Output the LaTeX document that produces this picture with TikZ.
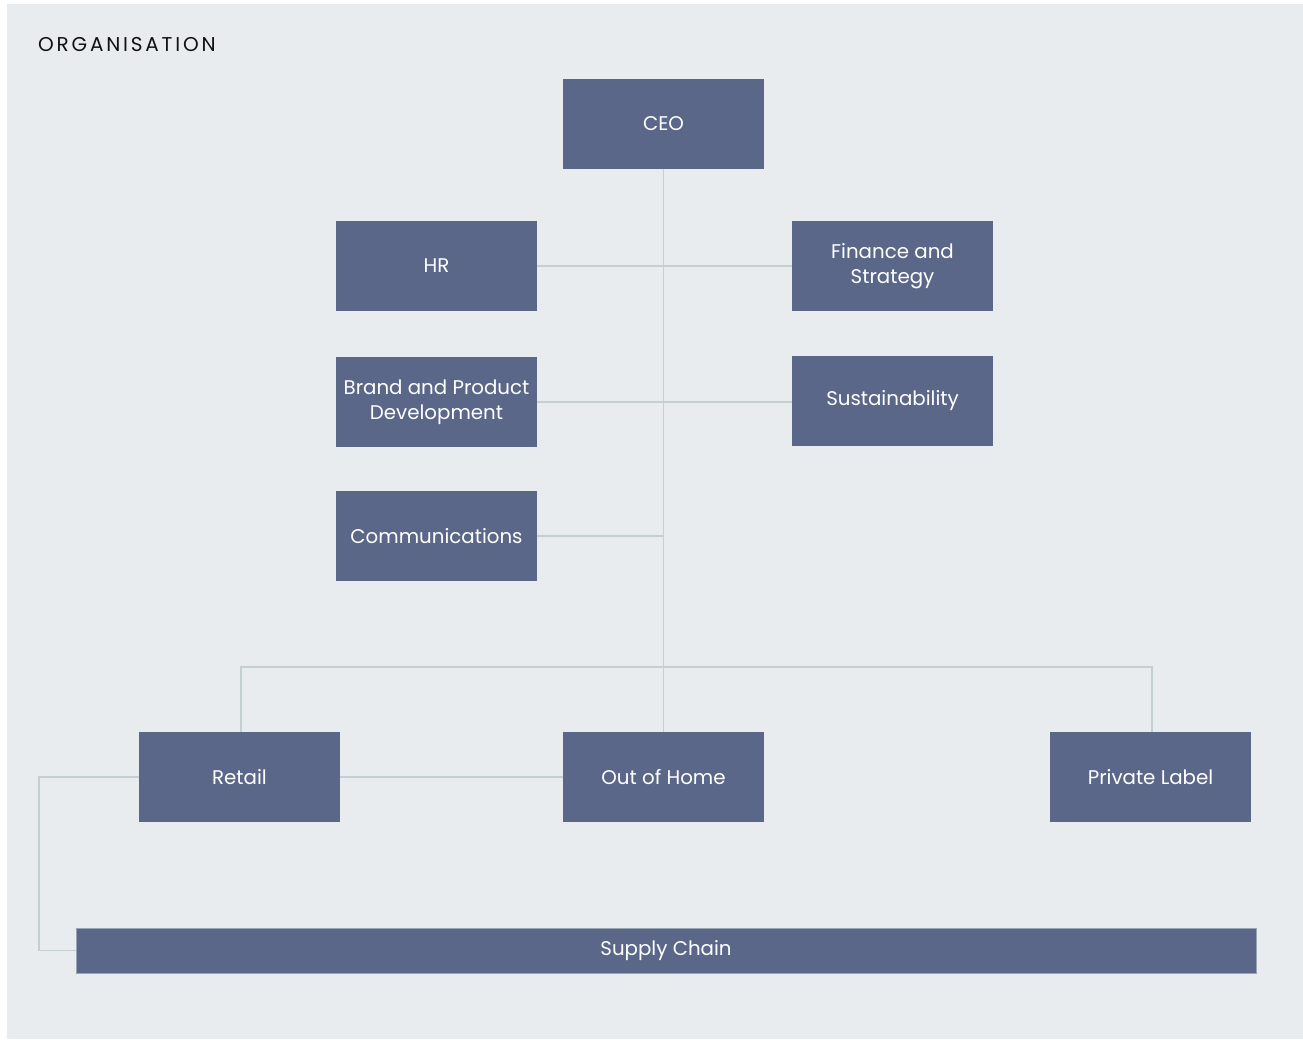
\documentclass[tikz,border=0pt]{standalone}
\usepackage{fontspec}
\setmainfont{Poppins}
\newfontfamily\titlefont[LetterSpace=14]{Poppins}
\definecolor{bgc}{HTML}{E8ECEF}
\definecolor{boxc}{HTML}{5A6788}
\definecolor{linec}{HTML}{C3CFD2}
\definecolor{titlec}{HTML}{111111}
\begin{document}
\begin{tikzpicture}[x=1pt,y=-1pt,
  orgbox/.style={fill=boxc, draw=none, minimum width=201pt, minimum height=90pt,
    inner sep=0pt, align=center, text=white, font=\fontsize{19.8}{25}\selectfont},
  conn/.style={draw=linec, line width=1.7pt}]
\useasboundingbox (0,0) rectangle (1303,1040);
\fill[white] (0,0) rectangle (1303,1040);
\fill[bgc] (7,4) rectangle (1303,1039);
\node[anchor=base west, text=titlec, inner sep=0pt, font=\titlefont\fontsize{20}{22}\selectfont] (title) at (38,52) {ORGANISATION};

\node[orgbox] (ceo) at (663.5,124) {CEO};
\node[orgbox] (hr) at (436.5,266) {HR};
\node[orgbox] (fin) at (892.5,266) {Finance and\\Strategy};
\node[orgbox] (brand) at (436.5,402) {Brand and Product\\Development};
\node[orgbox] (sus) at (892.5,401) {Sustainability};
\node[orgbox] (comm) at (436.5,536) {Communications};
\node[orgbox] (retail) at (239.5,777) {Retail};
\node[orgbox] (ooh) at (663.5,777) {Out of Home};
\node[orgbox] (pl) at (1150.5,777) {Private Label};
\node[orgbox, minimum width=1180pt, minimum height=45pt, draw=linec!60!boxc, line width=0.6pt] (sc) at (666,950.5) {\raisebox{-2pt}{Supply Chain}};

\coordinate (bus) at (663.5,667);
\draw[conn] (ceo.south) -- (ooh.north);
\draw[conn] (hr.east) -- (fin.west);
\draw[conn] (brand.east) -- (brand.east -| sus.west);
\draw[conn] (comm.east) -- (comm.east -| ceo.south);
\draw[conn] ([xshift=1.5pt]retail.north) |- (bus) -| ([xshift=1.5pt]pl.north);
\draw[conn] (retail.east) -- (ooh.west);
\draw[conn] (retail.west) -- ++(-100,0) |- (sc.west);
\end{tikzpicture}
\end{document}
